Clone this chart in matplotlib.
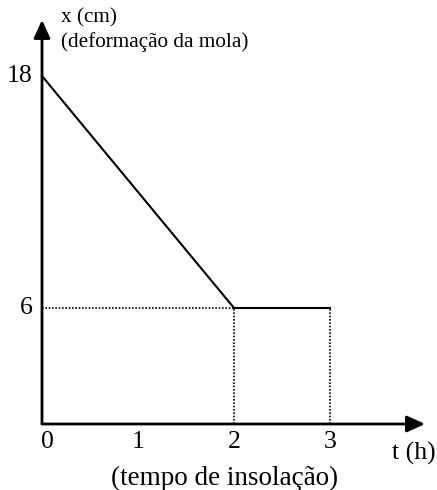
import matplotlib
matplotlib.use("Agg")
import matplotlib.pyplot as plt

# dados do gráfico
tempo = [0, 2, 3]          # t (h)
deformacao = [18, 6, 6]    # x (cm)
ticks_t = [0, 1, 2, 3]
ticks_x = [6, 18]

plt.rcParams['font.family'] = ['Liberation Serif', 'DejaVu Serif']

fig = plt.figure(figsize=(4.37, 4.90), dpi=100)
ax = fig.add_axes([0, 0, 1, 1])
ax.set_xlim(-0.4375, 4.1146)
ax.set_ylim(-3.414, 21.93)
ax.axis('off')

# eixos com setas
seta = dict(arrowstyle='-|>,head_length=1.1,head_width=0.5', color='black',
            lw=2.0, shrinkA=0, shrinkB=0)
ax.annotate('', xy=(3.99, 0), xytext=(0, 0), arrowprops=seta)
ax.annotate('', xy=(0, 20.9), xytext=(0, 0), arrowprops=seta)

# curva
ax.plot(tempo, deformacao, color='black', lw=1.5, solid_joinstyle='miter')

# linhas pontilhadas
pont = dict(color='black', lw=1.2, linestyle=(0, (1, 1)))
ax.plot([0, tempo[1]], [deformacao[1], deformacao[1]], **pont)
for t, x in zip(tempo[1:], deformacao[1:]):
    ax.plot([t, t], [0, x], **pont)

# rótulos
for t in ticks_t:
    xpos = t + 0.06 if t == 0 else t
    ax.text(xpos, -0.93, str(t), ha='center', va='center', fontsize=18.5)
for x in ticks_x:
    ax.text(-0.1, x, str(x), ha='right', va='center', fontsize=18.5)

ax.text(3.646, -1.5, 't (h)', ha='left', va='center', fontsize=18.5)
ax.text(1.906, -2.79, '(tempo de insolação)', ha='center', va='center', fontsize=19.5)
ax.text(0.198, 21.0, 'x (cm)', ha='left', va='center', fontsize=15.3)
ax.text(0.198, 19.76, '(deformação da mola)', ha='left', va='center', fontsize=15.3)

fig.savefig('out.png', dpi=100)
